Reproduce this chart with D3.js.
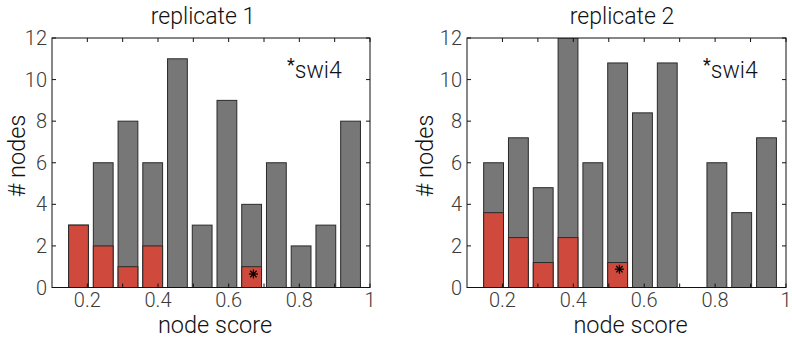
<!DOCTYPE html>
<html>
<head>
<meta charset="utf-8">
<script src="https://cdn.jsdelivr.net/npm/d3@7"></script>
<style>
  body { margin: 0; background: #fff; }
  svg text { font-family: Roboto, "Liberation Sans", sans-serif; font-weight: 300; }
</style>
</head>
<body>
<div id="chart"></div>
<script>
// bin centres (node score) shared by both replicates
const binCenters = [0.175, 0.245, 0.315, 0.385, 0.455, 0.525, 0.595, 0.665, 0.735, 0.805, 0.875, 0.945];

// replicate 1
const rep1Total = [3, 6, 8, 6, 11, 3, 9, 4, 6, 2, 3, 8];
const rep1Red   = [3, 2, 1, 2, 0, 0, 0, 1, 0, 0, 0, 0];
const rep1Star  = [0.67, 0.65];

// replicate 2
const rep2Total = [6, 7.2, 4.8, 12, 6, 10.8, 8.4, 10.8, 0, 6, 3.6, 7.2];
const rep2Red   = [3.6, 2.4, 1.2, 2.4, 0, 1.2, 0, 0, 0, 0, 0, 0];
const rep2Star  = [0.53, 0.88];

const titles = ["replicate 1", "replicate 2"];
const xTicks = [0.2, 0.4, 0.6, 0.8, 1];
const xMinorTicks = [0.2, 0.3, 0.4, 0.5, 0.6, 0.7, 0.8, 0.9, 1];
const yTicks = [0, 2, 4, 6, 8, 10, 12];

const W = 792, H = 341;
const grey = "#777777", red = "#cf4a3d", edge = "#2a2a2a";

const svg = d3.select("#chart").append("svg")
    .attr("width", W)
    .attr("height", H);

function drawPanel(p) {
    let left = p.left, right = p.right;
    let top = 38, bottom = 287.5;

    let x = d3.scaleLinear().domain([0.1, 1]).range([left, right]);
    let y = d3.scaleLinear().domain([0, 12]).range([bottom, top]);
    let barW = (x(0.17) - x(0.1)) * 0.8;

    let g = svg.append("g");

    let clipId = "clip" + Math.round(left);
    g.append("clipPath").attr("id", clipId)
        .append("rect")
        .attr("x", left).attr("y", top)
        .attr("width", right - left).attr("height", bottom - top);

    let bars = g.append("g").attr("clip-path", `url(#${clipId})`);

    [[p.total, grey], [p.red, red]].forEach(([vals, col]) => {
        bars.append("g").selectAll("rect")
            .data(binCenters.map((c, i) => ({c: c, v: vals[i]})).filter(d => d.v > 0))
            .enter()
            .append("rect")
            .attr("x", d => x(d.c) - barW / 2)
            .attr("y", d => y(d.v))
            .attr("width", barW)
            .attr("height", d => y(0) - y(d.v))
            .attr("fill", col)
            .attr("stroke", edge)
            .attr("stroke-width", 1);
    });

    // asterisk marker for swi4
    let sx = x(p.star[0]), sy = y(p.star[1]), r = 4.5;
    let star = g.append("g").attr("stroke", "#000").attr("stroke-width", 1.3);
    [0, 45, 90, 135].forEach(a => {
        let dx = r * Math.cos(a * Math.PI / 180), dy = r * Math.sin(a * Math.PI / 180);
        star.append("line")
            .attr("x1", sx - dx).attr("y1", sy - dy)
            .attr("x2", sx + dx).attr("y2", sy + dy);
    });

    // box
    g.append("rect")
        .attr("x", left).attr("y", top)
        .attr("width", right - left).attr("height", bottom - top)
        .attr("fill", "none")
        .attr("stroke", "#111")
        .attr("stroke-width", 1);

    // inward ticks on all sides
    let tl = 4;
    xMinorTicks.forEach(t => {
        g.append("line").attr("x1", x(t)).attr("x2", x(t)).attr("y1", bottom).attr("y2", bottom - tl).attr("stroke", "#111");
        g.append("line").attr("x1", x(t)).attr("x2", x(t)).attr("y1", top).attr("y2", top + tl).attr("stroke", "#111");
    });
    yTicks.forEach(t => {
        g.append("line").attr("x1", left).attr("x2", left + tl).attr("y1", y(t)).attr("y2", y(t)).attr("stroke", "#111");
        g.append("line").attr("x1", right).attr("x2", right - tl).attr("y1", y(t)).attr("y2", y(t)).attr("stroke", "#111");
    });

    // tick labels
    g.append("g").selectAll("text")
        .data(xTicks)
        .enter()
        .append("text")
        .attr("x", d => x(d))
        .attr("y", 307)
        .attr("text-anchor", "middle")
        .attr("fill", "#3a3a3a")
        .style("font-size", "20px")
        .text(d => d);

    g.append("g").selectAll("text")
        .data(yTicks)
        .enter()
        .append("text")
        .attr("x", left - 5)
        .attr("y", d => y(d) + 7)
        .attr("text-anchor", "end")
        .attr("fill", "#3a3a3a")
        .style("font-size", "20px")
        .text(d => d);

    // titles and axis labels
    g.append("text")
        .attr("x", p.titleX)
        .attr("y", 24)
        .attr("text-anchor", "middle")
        .attr("fill", "#111")
        .style("font-size", "23px")
        .text(p.title);

    g.append("text")
        .attr("x", (left + right) / 2 + 4)
        .attr("y", 333)
        .attr("text-anchor", "middle")
        .attr("fill", "#111")
        .style("font-size", "23.5px")
        .text("node score");

    g.append("text")
        .attr("transform", `translate(${p.ylabX},${156}) rotate(-90)`)
        .attr("text-anchor", "middle")
        .attr("fill", "#111")
        .style("font-size", "23.5px")
        .text("# nodes");

    // legend
    let lg = g.append("text")
        .attr("x", right - 83)
        .attr("y", 78)
        .attr("fill", "#111")
        .style("font-size", "23px");
    lg.append("tspan")
        .attr("dy", -7)
        .style("font-size", "18px")
        .style("font-weight", 400)
        .text("*");
    lg.append("tspan")
        .attr("dy", 7)
        .text("swi4");
}

drawPanel({left: 52, right: 370, title: titles[0], titleX: 203, ylabX: 25,
           total: rep1Total, red: rep1Red, star: rep1Star});
drawPanel({left: 467, right: 786, title: titles[1], titleX: 622, ylabX: 433,
           total: rep2Total, red: rep2Red, star: rep2Star});
</script>
</body>
</html>
